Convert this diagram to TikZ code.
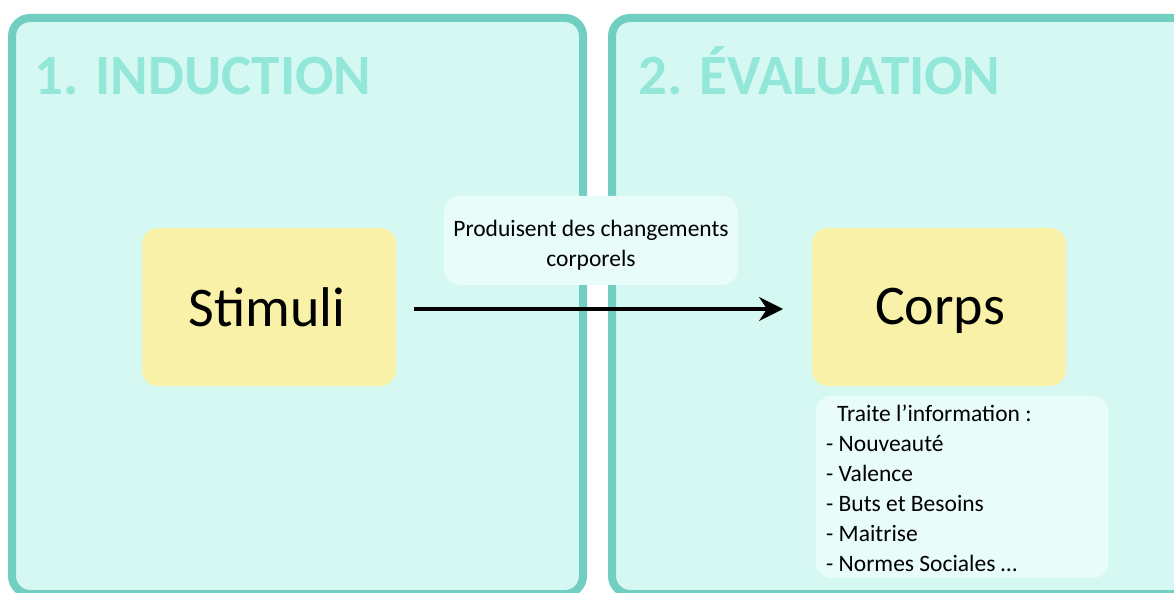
\documentclass[tikz,border=0pt]{standalone}
\usepackage{fontspec}
\setmainfont{Carlito}
\usetikzlibrary{arrows.meta}
\definecolor{panelborder}{HTML}{70CFC1}
\definecolor{panelfill}{HTML}{D6F8F3}
\definecolor{titlecol}{HTML}{93E7D9}
\definecolor{yellowbox}{HTML}{FAF1A8}
\definecolor{lightbox}{HTML}{E8FCF9}
\tikzset{
  panel/.style={draw=panelborder, line width=8pt, fill=panelfill, rounded corners=18pt},
  titletext/.style={text=titlecol, font=\fontsize{57}{60}\selectfont\bfseries, anchor=base west, inner sep=0pt},
  yellowbox/.style={fill=yellowbox, rounded corners=16pt, minimum width=254pt, minimum height=158pt, inner sep=0pt},
  bigtext/.style={font=\fontsize{56}{60}\selectfont, anchor=base, inner sep=0pt},
  labelbox/.style={fill=lightbox, rounded corners=16pt, inner sep=0pt},
  arrowline/.style={line width=3pt, -{Stealth[length=24pt, width=24pt, inset=8pt]}}
}
\begin{document}
\begin{tikzpicture}[x=1pt,y=-1pt]
\useasboundingbox (0,0) rectangle (1174,593);
\clip (0,0) rectangle (1174,593);
\fill[white] (0,0) rectangle (1174,593);
% panels
\draw[panel] (12,18) rectangle (583,594);
\draw[panel] (612,18) rectangle (1200,594);
\node[titletext] (t1) at (34,95) {1. INDUCTION};
\node[titletext] (t2) at (638,95) {2. ÉVALUATION};
% boxes
\node[yellowbox] (stimuli) at (269,307) {};
\node[bigtext] (stimulitext) at (267,326) {Stimuli};
\node[yellowbox] (corps) at (939,307) {};
\node[bigtext] (corpstext) at (940,324) {Corps};
\node[labelbox, minimum width=294pt, minimum height=89pt] (lab) at (591,240.5) {};
\node[font=\fontsize{23.5}{30}\selectfont, align=center, inner sep=0pt] (labtext) at (591,245) {Produisent des changements\\corporels};
\draw[arrowline] (414,309) -- (783,309);
\node[labelbox, minimum width=293pt, minimum height=182pt] (info) at (962,487) {};
\node[anchor=north west, inner sep=0pt, font=\fontsize{23.5}{30}\selectfont, align=left] (infotext) at (826,405)
{\hspace{11pt}Traite l’information :\\
- Nouveauté\\
- Valence\\
- Buts et Besoins\\
- Maitrise\\
- Normes Sociales …};
\end{tikzpicture}
\end{document}
